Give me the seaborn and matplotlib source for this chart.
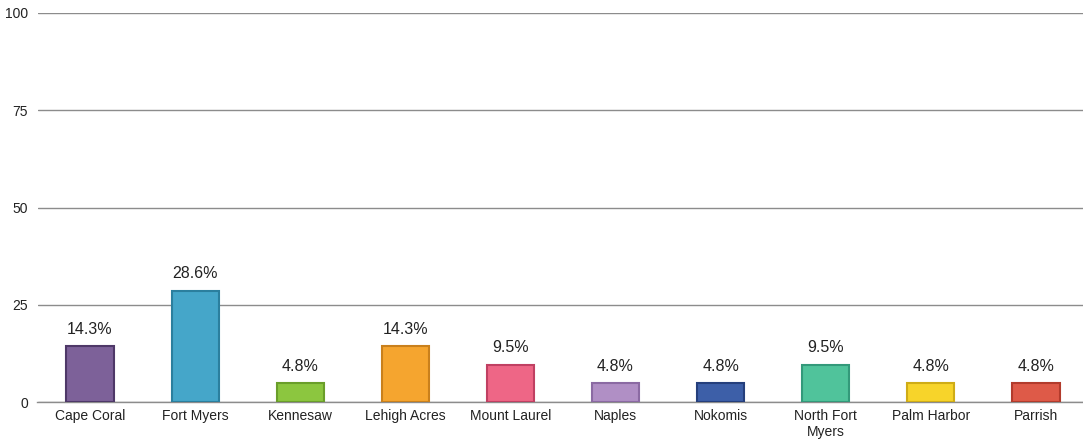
import matplotlib
matplotlib.use("Agg")
import matplotlib.pyplot as plt
import seaborn as sns
import pandas as pd

categories = ["Cape Coral", "Fort Myers", "Kennesaw", "Lehigh Acres", "Mount Laurel",
              "Naples", "Nokomis", "North Fort\nMyers", "Palm Harbor", "Parrish"]
values = [14.3, 28.6, 4.8, 14.3, 9.5, 4.8, 4.8, 9.5, 4.8, 4.8]
colors = ["#7d6199", "#45a6c9", "#8cc63f", "#f5a52f", "#ee6686",
          "#b08fc5", "#3d5fa8", "#50c39b", "#f7d42a", "#de5a48"]
edge_colors = ["#4e3868", "#2b7f9e", "#6a9e2a", "#c9801c", "#c04062",
               "#8b6aa3", "#253f7c", "#33997a", "#cfac16", "#b23b2c"]
yticks = [0, 25, 50, 75, 100]

sns.set_style("white")
plt.rcParams['font.family'] = ['Liberation Sans', 'DejaVu Sans']

df = pd.DataFrame({"city": categories, "pct": values})

fig = plt.figure(figsize=(10.83, 4.43), dpi=100)
ax = fig.add_axes([37.5 / 1083, 41 / 443, 1051 / 1083, 389 / 443])

sns.barplot(data=df, x="city", y="pct", hue="city", palette=colors, legend=False,
            width=0.45, saturation=1, ax=ax, zorder=3)
for p, ec in zip(ax.patches, edge_colors):
    p.set_edgecolor(ec)
    p.set_linewidth(1.5)

for i, v in enumerate(values):
    ax.annotate(f"{v}%", (i, v), xytext=(0, 7), textcoords="offset points",
                ha="center", va="bottom", fontsize=11.5, color="#222222")

ax.set_ylim(0, 100)
ax.set_xlim(-0.5, len(categories) - 0.5)
ax.set_yticks(yticks)
ax.set_yticklabels([str(t) for t in yticks])
ax.yaxis.grid(True, color="#8c8c8c", linewidth=1.0, zorder=0)
ax.set_axisbelow(True)
for s in ["top", "right", "left"]:
    ax.spines[s].set_visible(False)
ax.spines["bottom"].set_color("#8c8c8c")
ax.spines["bottom"].set_linewidth(1.0)

ax.set_xticks([i + 0.5 for i in range(len(categories) - 1)], minor=True)
ax.tick_params(axis="x", which="minor", length=4, color="#8c8c8c", width=1, direction="out")
ax.tick_params(axis="x", which="major", length=0, labelsize=10, colors="#222222", pad=5)
ax.tick_params(axis="y", length=0, labelsize=10, colors="#222222", pad=7)
ax.set_xlabel("")
ax.set_ylabel("")

fig.savefig("out.png", dpi=100)
